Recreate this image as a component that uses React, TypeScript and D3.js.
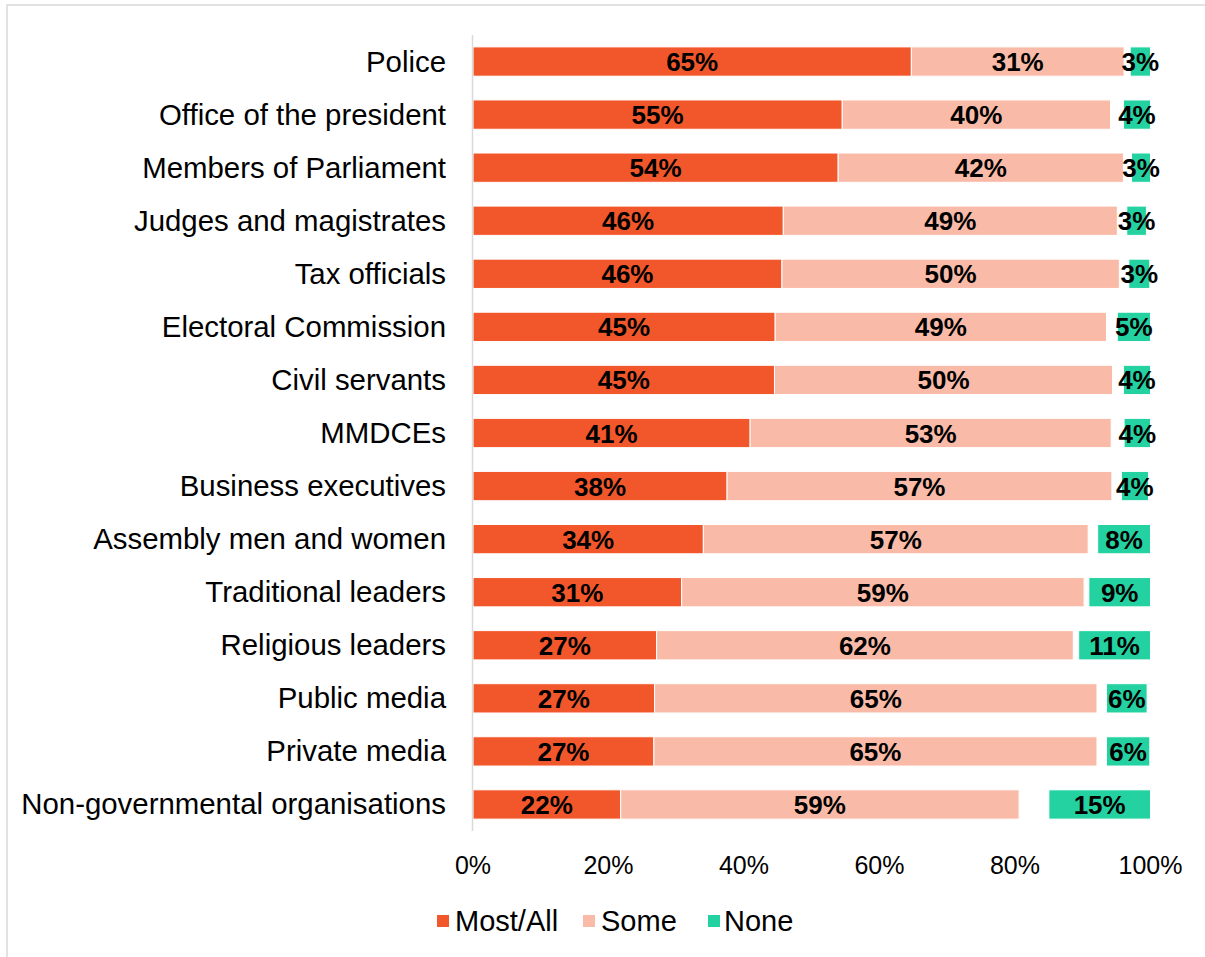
import React from "react";
import * as d3 from "d3";

const categories = [
  "Police",
  "Office of the president",
  "Members of Parliament",
  "Judges and magistrates",
  "Tax officials",
  "Electoral Commission",
  "Civil servants",
  "MMDCEs",
  "Business executives",
  "Assembly men and women",
  "Traditional leaders",
  "Religious leaders",
  "Public media",
  "Private media",
  "Non-governmental organisations",
];

const mostAll = [64.7, 54.5, 53.9, 45.8, 45.6, 44.6, 44.5, 40.9, 37.5, 34.0, 30.8, 27.1, 26.8, 26.7, 21.8];
const some = [31.4, 39.6, 42.1, 49.3, 49.8, 48.9, 49.9, 53.3, 56.8, 56.8, 59.4, 61.5, 65.3, 65.4, 58.8];
const dontKnow = [0.9, 1.9, 1.2, 1.4, 1.4, 1.6, 1.6, 1.9, 1.4, 1.4, 0.7, 0.8, 1.4, 1.4, 4.4];
const none = [3.0, 4.0, 2.8, 2.9, 3.1, 4.9, 4.0, 3.9, 4.0, 7.8, 9.1, 10.6, 6.0, 6.4, 15.0];

const xTicks = [0, 20, 40, 60, 80, 100];

const seriesKeys = ["mostAll", "some", "dontKnow", "none"];
const seriesNames: Record<string, string> = { mostAll: "Most/All", some: "Some", none: "None" };
const colors: Record<string, string> = {
  mostAll: "#F2572B",
  some: "#F9BBA8",
  dontKnow: "none",
  none: "#24D2A1",
};

const FONT = "'Liberation Sans', Arial, sans-serif";

export default function App() {
  const W = 1205;
  const H = 957;
  const x = d3.scaleLinear().domain([0, 100]).range([473, 1150.5]);
  const y = d3
    .scaleBand<string>()
    .domain(categories)
    .range([35, 831])
    .paddingInner(0.448)
    .paddingOuter(0.224);

  const rows = categories.map((c, i) => ({
    cat: c,
    mostAll: mostAll[i],
    some: some[i],
    dontKnow: dontKnow[i],
    none: none[i],
  }));
  const stacked = d3.stack<any>().keys(seriesKeys)(rows);

  const legendItems = [
    { key: "mostAll", sx: 437, tx: 455 },
    { key: "some", sx: 583, tx: 601 },
    { key: "none", sx: 708, tx: 724 },
  ];

  return (
    <svg
      width={W}
      height={H}
      style={{ position: "absolute", left: 0, top: 0, background: "#fff" }}
      fontFamily={FONT}
    >
      <rect x={7} y={5} width={1210} height={970} fill="#fff" stroke="#d9d9d9" strokeWidth={1.5} />
      {stacked.map((s) =>
        s.key === "dontKnow"
          ? null
          : s.map((d, i) => {
              const cat = categories[i];
              const x0 = x(d[0]);
              const x1 = x(d[1]);
              const yy = y(cat)!;
              return (
                <rect
                  key={s.key + i}
                  x={x0}
                  y={yy}
                  width={x1 - x0}
                  height={y.bandwidth()}
                  fill={colors[s.key]}
                  stroke="#fff"
                  strokeWidth={1}
                />
              );
            })
      )}
      <line x1={472.5} x2={472.5} y1={35} y2={831} stroke="#d9d9d9" strokeWidth={1.5} />
      {stacked.map((s) =>
        s.key === "dontKnow"
          ? null
          : s.map((d, i) => {
              const cat = categories[i];
              const cx = (x(d[0]) + x(d[1])) / 2;
              const cy = y(cat)! + y.bandwidth() / 2;
              const v = (d.data as any)[s.key] as number;
              return (
                <text
                  key={"l" + s.key + i}
                  x={cx}
                  y={cy + 9.5}
                  textAnchor="middle"
                  fontSize={26}
                  fontWeight="bold"
                  fill="#000"
                >
                  {Math.round(v)}%
                </text>
              );
            })
      )}
      {categories.map((c) => (
        <text
          key={c}
          x={446}
          y={y(c)! + y.bandwidth() / 2 + 10}
          textAnchor="end"
          fontSize={29.4}
          fill="#000"
        >
          {c}
        </text>
      ))}
      {xTicks.map((t) => (
        <text key={t} x={x(t)} y={874} textAnchor="middle" fontSize={25} fill="#000">
          {t}%
        </text>
      ))}
      {legendItems.map((l) => (
        <g key={l.key}>
          <rect x={l.sx} y={915} width={12} height={12} fill={colors[l.key]} />
          <text x={l.tx} y={931} fontSize={29} fill="#000">
            {seriesNames[l.key]}
          </text>
        </g>
      ))}
    </svg>
  );
}
